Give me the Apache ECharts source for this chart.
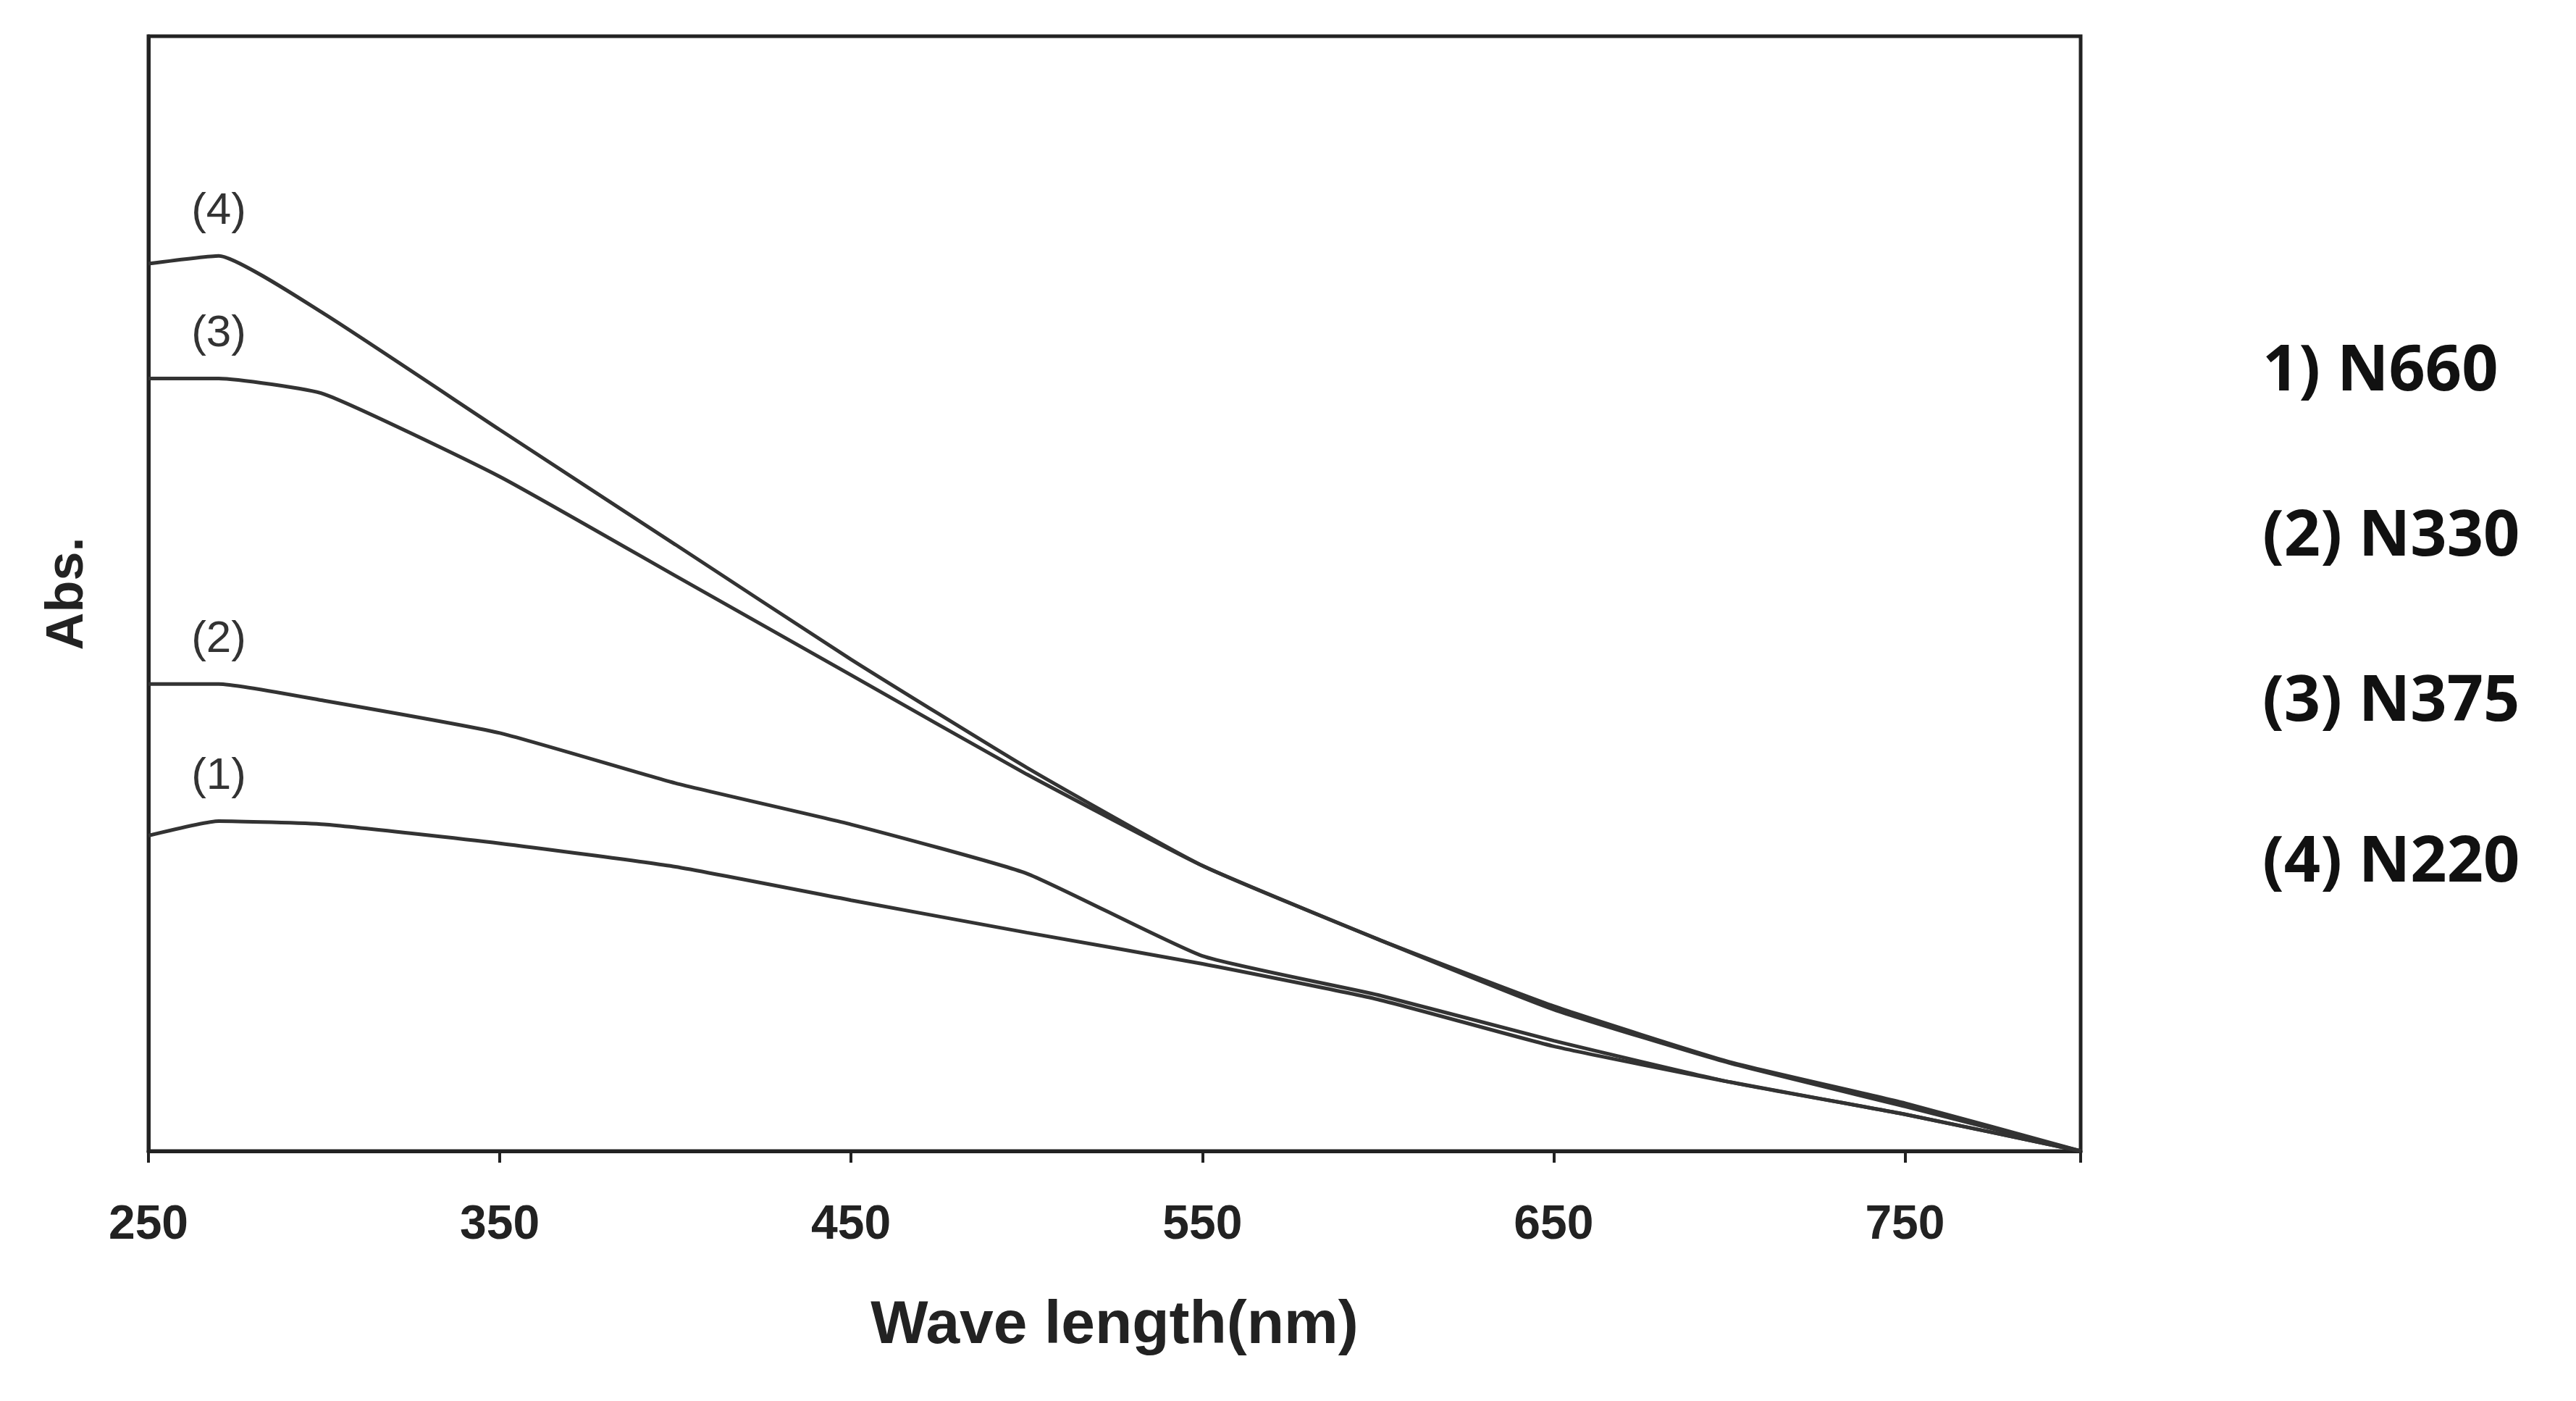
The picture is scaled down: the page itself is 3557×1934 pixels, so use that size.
<!DOCTYPE html>
<html><head><meta charset="utf-8">
<script src="https://cdn.jsdelivr.net/npm/echarts@6/dist/echarts.min.js"></script>
<style>html,body{margin:0;background:#fff}#c{width:3557px;height:1934px}</style></head>
<body><div id="c"></div>
<script>
const wavelengths = [250,270,300,350,400,450,500,550,600,650,700,750,800];
const n220 = [0.796,0.803,0.751,0.647,0.544,0.441,0.344,0.256,0.190,0.130,0.080,0.043,0.0];
const n375 = [0.693,0.693,0.679,0.605,0.516,0.427,0.338,0.256,0.190,0.127,0.079,0.040,0.0];
const n330 = [0.419,0.419,0.404,0.375,0.330,0.293,0.249,0.175,0.140,0.099,0.062,0.033,0.0];
const n660 = [0.283,0.296,0.293,0.276,0.255,0.225,0.196,0.168,0.136,0.094,0.062,0.033,0.0];
const seriesNames = ['(1)','(2)','(3)','(4)'];
const legendTexts = ['1) N660','(2) N330','(3) N375','(4) N220'];
const xTicks = [250,350,450,550,650,750];
const all = [n660,n330,n375,n220];
const chart = echarts.init(document.getElementById('c'));
const mk = (arr,i)=>({
  type:'line', name:seriesNames[i], showSymbol:false, smooth:0.15,
  data: wavelengths.map((w,k)=>[w,arr[k]]),
  lineStyle:{color:'#333',width:5},
  markPoint:{symbol:'circle',symbolSize:1,itemStyle:{color:'transparent'},
    data:[{coord:[270,arr[1]],label:{show:true,formatter:seriesNames[i],position:'top',distance:30,color:'#333',fontSize:62,fontFamily:'Liberation Sans'}}]}
});
chart.setOption({
  animation:false,
  grid:{left:205,right:684,top:50,bottom:345,show:true,borderColor:'#222',borderWidth:5},
  xAxis:{type:'value',min:250,max:800,interval:100,
    name:'Wave length(nm)',nameLocation:'middle',nameGap:200,
    nameTextStyle:{fontSize:84,fontWeight:'bold',color:'#222',fontFamily:'Liberation Sans'},
    axisLine:{lineStyle:{color:'#222',width:5}},axisTick:{show:true,length:16,lineStyle:{width:4,color:'#222'}},
    splitLine:{show:false},
    axisLabel:{fontSize:66,fontWeight:'bold',color:'#222',margin:70,fontFamily:'Liberation Sans',
      formatter:v=>xTicks.includes(v)?String(v):''}},
  yAxis:{type:'value',min:0,max:1,name:'Abs.',nameLocation:'middle',nameGap:75,nameRotate:90,
    nameTextStyle:{fontSize:72,fontWeight:'bold',color:'#222',fontFamily:'Liberation Sans'},
    axisLine:{show:true,lineStyle:{color:'#222',width:5}},axisTick:{show:false},axisLabel:{show:false},splitLine:{show:false}},
  series: all.map(mk),
  graphic: legendTexts.map((t,i)=>({type:'text',left:3124,top:[470,698,926,1148][i],
    style:{text:t,fontSize:88,fontWeight:'bold',fill:'#111',fontFamily:'Open Sans'}}))
});
</script></body></html>
